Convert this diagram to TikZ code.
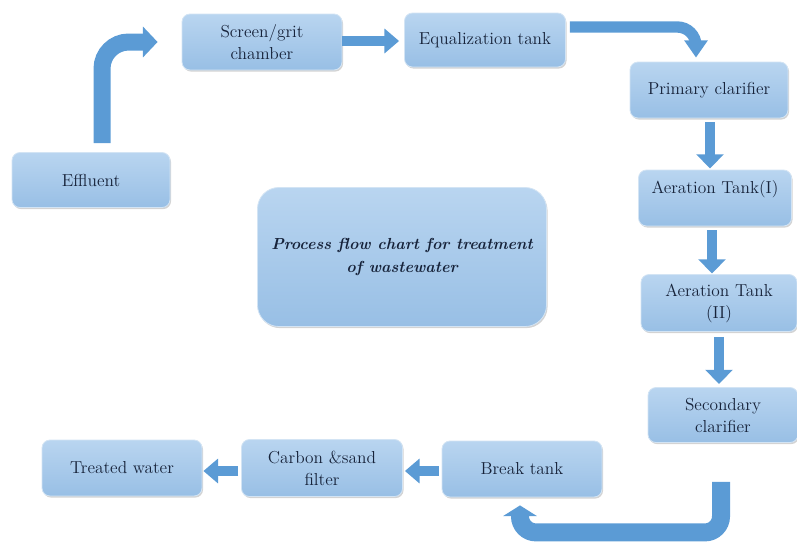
\documentclass[tikz,border=0pt]{standalone}
\usepackage{fontspec}
\usetikzlibrary{arrows.meta,calc,shadows}
\definecolor{flowblue}{HTML}{5B9BD5}
\definecolor{boxtop}{HTML}{B9D5F0}
\definecolor{boxbot}{HTML}{98BFE5}
\definecolor{boxline}{HTML}{D3E4F4}
\definecolor{txt}{HTML}{17233A}
\tikzset{
  stepbox/.style={rounded corners=6pt, top color=boxtop, bottom color=boxbot, draw=boxline, line width=0.6pt,
    drop shadow={shadow xshift=0.8pt, shadow yshift=-1.2pt, opacity=0.35},
    align=center, text=txt, font=\fontsize{13}{16.5}\selectfont\addfontfeatures{FakeBold=1.2}, inner sep=2pt},
  flowbase/.style={draw=flowblue, line width=#1, line join=miter},
  bigflow/.style={flowbase=12.75pt, rounded corners=20pt, -{Triangle[length=11pt,width=22.5pt]}},
  midflow/.style={flowbase=8.5pt, rounded corners=14pt, -{Triangle[length=13pt,width=17pt]}},
  vflow/.style={flowbase=8pt, -{Triangle[length=10.5pt,width=20pt]}},
  hflow/.style={flowbase=7.5pt, -{Triangle[length=11pt,width=18pt]}},
  botflow/.style={flowbase=13.5pt, rounded corners=12pt, -{Triangle[length=8pt,width=25pt]}},
}
\begin{document}
\begin{tikzpicture}[x=0.75pt,y=-0.75pt]
\useasboundingbox (0,0) rectangle (797,543);
\node[stepbox, minimum width=118.5pt, minimum height=41.25pt] (eff) at (91,180) {Effluent};
\node[stepbox, minimum width=120pt, minimum height=42pt] (scr) at (262,42) {Screen/grit\\chamber};
\node[stepbox, minimum width=120.75pt, minimum height=40.5pt] (eq) at (485,40) {Equalization tank};
\node[stepbox, minimum width=118.5pt, minimum height=42pt] (prim) at (709,90) {Primary clarifier};
\node[stepbox, minimum width=114.75pt, minimum height=42pt] (aer1) at (715,198) {Aeration Tank(I)\\\mbox{}};
\node[stepbox, minimum width=117pt, minimum height=42.75pt] (aer2) at (719,303) {Aeration Tank\\(II)};
\node[stepbox, minimum width=112.5pt, minimum height=41.25pt] (sec) at (723,415) {Secondary\\clarifier};
\node[stepbox, minimum width=120pt, minimum height=42pt] (brk) at (522,469) {Break tank};
\node[stepbox, minimum width=120.75pt, minimum height=42.75pt] (car) at (322,468) {Carbon \&sand\\filter};
\node[stepbox, minimum width=120pt, minimum height=42pt] (trt) at (122,468) {Treated water};
\node[stepbox, rounded corners=16pt, minimum width=216.75pt, minimum height=104.25pt,
  font=\fontsize{12}{17}\selectfont\bfseries\itshape] (title) at (402,257)
  {Process flow chart for treatment\\of wastewater};

\draw[bigflow] ($(eff.north)+(11,-9)$) |- ($(scr.west)+(-24,0)$);
\draw[hflow] ($(scr.east)+(0,-1)$) -- ($(scr.east -| eq.west)+(-5,-1)$);
\draw[midflow] ($(eq.east)+(4,-13)$) -| ($(prim.north)+(-13,-4)$);
\draw[vflow] ($(prim.south)+(1,4)$) -- ($(prim.south)+(1,50)$);
\draw[vflow] ($(aer1.south)+(-3,4)$) -- ($(aer1.south)+(-3,47)$);
\draw[vflow] ($(aer2.south)+(0,5)$) -- ($(aer2.south)+(0,52)$);
\draw[botflow] ($(sec.south)+(-2,39)$) |- ($(brk.south)+(-2,35)$) -- ($(brk.south)+(-2,8)$);
\draw[hflow] ($(brk.west)+(-3,2)$) -- ($(brk.west -| car.east)+(2,2)$);
\draw[hflow] ($(car.west)+(-3,3)$) -- ($(car.west -| trt.east)+(1,3)$);
\end{tikzpicture}
\end{document}
